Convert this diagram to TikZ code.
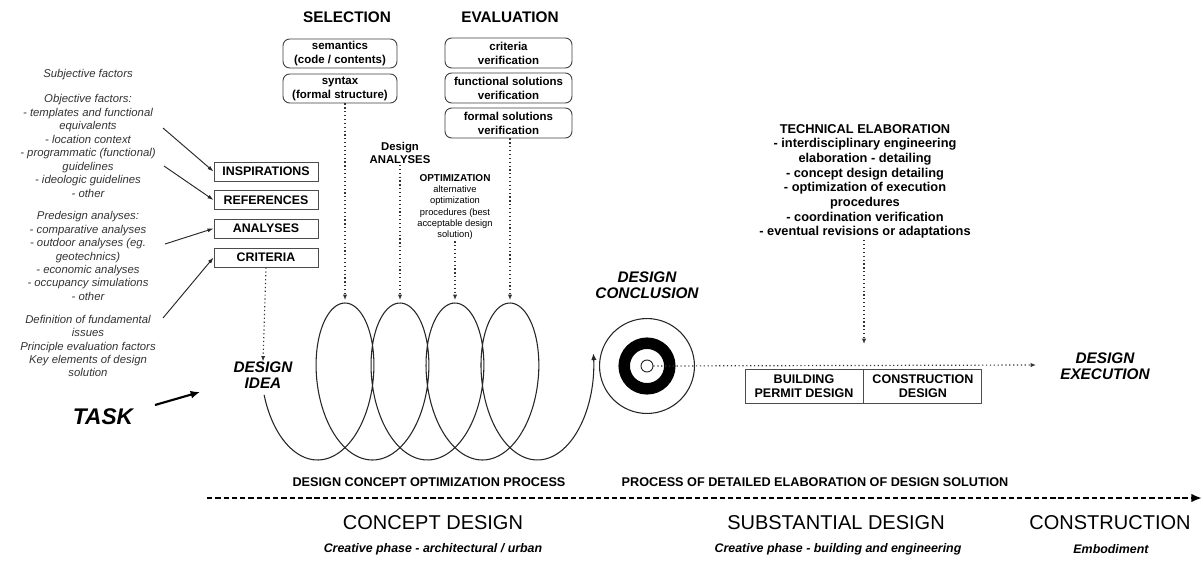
\documentclass[tikz,border=0pt]{standalone}
\usepackage{fontspec}
\setmainfont{Liberation Sans}
\usetikzlibrary{arrows.meta,calc}
\tikzset{
  lefttxt/.style={font=\itshape\fontsize{8.5}{10.1}\selectfont, align=center, text=black!80, inner sep=0pt},
  srcbox/.style={draw=black!70, line width=0.7pt, minimum width=78pt, minimum height=14.25pt, inner sep=0pt, font=\bfseries\fontsize{9.3}{11}\selectfont},
  selbox/.style={draw=black!75, rounded corners=5pt, line width=0.7pt, align=center, inner sep=0pt, minimum width=85.5pt, minimum height=21.75pt, font=\bfseries\fontsize{8.6}{10.5}\selectfont},
  evalbox/.style={selbox, minimum width=95.25pt, minimum height=22.5pt},
  heading/.style={font=\bfseries\fontsize{11.5}{13}\selectfont},
  stage/.style={font=\bfseries\itshape\fontsize{11.5}{12}\selectfont, align=center, inner sep=0pt},
  dotarrow/.style={dotted, line width=0.9pt, draw=black!80, -{Latex[length=4pt,width=3.2pt]}},
  feedarrow/.style={line width=0.7pt, draw=black!85, -{Latex[length=4.5pt,width=3pt]}},
  procbox/.style={draw=black!70, line width=0.7pt, minimum width=88.5pt, minimum height=25.5pt, inner sep=0pt, align=center, font=\bfseries\fontsize{9.4}{10.8}\selectfont},
  proclabel/.style={font=\bfseries\fontsize{9.5}{11}\selectfont},
  phase/.style={font=\fontsize{15}{17}\selectfont},
  phasenote/.style={font=\bfseries\itshape\fontsize{9.3}{11}\selectfont}
}
\begin{document}
\begin{tikzpicture}[x=0.75pt,y=-0.75pt]
\useasboundingbox[fill=white] (0,0) rectangle (1203,565);

% ---- input factors (left column) ----
\node[lefttxt] (subj) at (88,75) {Subjective factors};
\node[lefttxt] (obj) at (88,146) {Objective factors:\\- templates and functional\\equivalents\\- location context\\- programmatic (functional)\\guidelines\\- ideologic guidelines\\- other};
\node[lefttxt] (pre) at (88,256) {Predesign analyses:\\- comparative analyses\\- outdoor analyses (eg.\\geotechnics)\\- economic analyses\\- occupancy simulations\\- other};
\node[lefttxt] (def) at (88,346) {Definition of fundamental\\issues\\Principle evaluation factors\\Key elements of design\\solution};

\node[srcbox] (insp) at (266,171.5) {INSPIRATIONS};
\node[srcbox] (refs) at (266,200) {REFERENCES};
\node[srcbox] (anal) at (266,228.5) {ANALYSES};
\node[srcbox] (crit) at (266,257.5) {CRITERIA};

\coordinate (f1) at (163,128);
\coordinate (f2) at (164,166);
\coordinate (f3) at (165,244);
\coordinate (f4) at (163,318);
\draw[feedarrow] (f1) -- (insp.west);
\draw[feedarrow] (f2) -- (refs.west);
\draw[feedarrow] (f3) -- (anal.west);
\draw[feedarrow] (f4) -- (crit.west);

% ---- task and idea ----
\node[font=\bfseries\itshape\fontsize{17}{19}\selectfont] (task) at (103,417) {TASK};
\coordinate (taskfrom) at (155,405);
\coordinate (taskhit) at (200,392);
\draw[line width=1.6pt, -{Latex[length=7pt,width=6pt]}] (taskfrom) -- (taskhit);

\node[stage] (idea) at (263,375) {DESIGN\\IDEA};
\draw[dotarrow] (crit.south) -- (idea.north);

% ---- selection / evaluation ----
\node[heading] (sel) at (347,17) {SELECTION};
\node[selbox] (sem) at (340,53.5) {semantics\\(code / contents)};
\node[selbox] (syn) at (340,88.5) {syntax\\(formal structure)};

\node[heading] (eval) at (510,17) {EVALUATION};
\node[evalbox] (crv) at (508.5,53) {criteria\\verification};
\node[evalbox] (fnv) at (508.5,88) {functional solutions\\verification};
\node[evalbox] (frv) at (508.5,123) {formal solutions\\verification};

\node[font=\bfseries\fontsize{8.5}{9.3}\selectfont, align=center, inner sep=1pt] (dan) at (400,153) {Design\\ANALYSES};
\node[align=center, inner sep=1pt, font=\fontsize{7}{8.5}\selectfont] (opt) at (455,207)
  {{\bfseries\fontsize{7.5}{8.5}\selectfont OPTIMIZATION}\\alternative\\optimization\\procedures (best\\acceptable design\\solution)};

% tops of the optimisation loops
\coordinate (t1) at (345,300);
\coordinate (t2) at (400,300);
\coordinate (t3) at (455,300);
\coordinate (t4) at (510,300);
\draw[dotarrow] (syn.south -| t1) -- (t1);
\draw[dotarrow] (dan.south) -- (t2);
\draw[dotarrow] (opt.south) -- (t3);
\draw[dotarrow] (frv.south -| t4) -- (t4);

% ---- optimisation coil ----
\draw[line width=0.8pt, black!85, -{Latex[length=5pt,width=4pt]}]
  plot[domain=-1.4:27.07, samples=420, smooth, variable=\t]
  ({317.5+8.75*\t+41.75*sin(\t r)},{381.5+78.5*cos(\t r)});

% ---- design conclusion target ----
\node[stage] (concl) at (647,285) {DESIGN\\CONCLUSION};
\coordinate (tc) at (647,366);
\draw[line width=0.8pt, black!85] (tc) circle[radius=35.6pt];
\draw[line width=8.6pt, black] (tc) circle[radius=17.1pt];
\node[circle, draw=black!85, line width=0.7pt, minimum size=9pt, inner sep=0pt] (core) at (tc) {};

\node[stage] (exec) at (1105,366) {DESIGN\\EXECUTION};
\coordinate (execin) at (1036,365);
\draw[dotarrow] (core.east) -- (execin);

% ---- technical elaboration ----
\node[align=center, inner sep=1pt, font=\bfseries\fontsize{9.6}{11}\selectfont] (tech) at (865,181.5)
  {TECHNICAL ELABORATION\\- interdisciplinary engineering\\elaboration - detailing\\- concept design detailing\\- optimization of execution\\procedures\\- coordination verification\\- eventual revisions or adaptations};
\coordinate (techin) at (864,344);
\draw[dotarrow] (tech.south -| techin) -- (techin);

\node[procbox] (bpd) at (804,386) {BUILDING\\PERMIT DESIGN};
\node[procbox, anchor=west] (cd) at (bpd.east) {CONSTRUCTION\\DESIGN};

% ---- process band ----
\node[proclabel] (p1) at (429,482) {DESIGN CONCEPT OPTIMIZATION PROCESS};
\node[proclabel] (p2) at (815,482) {PROCESS OF DETAILED ELABORATION OF DESIGN SOLUTION};
\coordinate (tl0) at (207,498);
\coordinate (tl1) at (1202,498);
\draw[line width=1.6pt, dash pattern=on 4pt off 2.2pt, -{Latex[length=8pt,width=6.5pt]}] (tl0) -- (tl1);

\node[phase] (ph1) at (433,523) {CONCEPT DESIGN};
\node[phasenote] (n1) at (433,549) {Creative phase - architectural / urban};
\node[phase] (ph2) at (836,523) {SUBSTANTIAL DESIGN};
\node[phasenote] (n2) at (838,549) {Creative phase - building and engineering};
\node[phase] (ph3) at (1110,523) {CONSTRUCTION};
\node[phasenote] (n3) at (1111,549) {Embodiment};
\end{tikzpicture}
\end{document}
